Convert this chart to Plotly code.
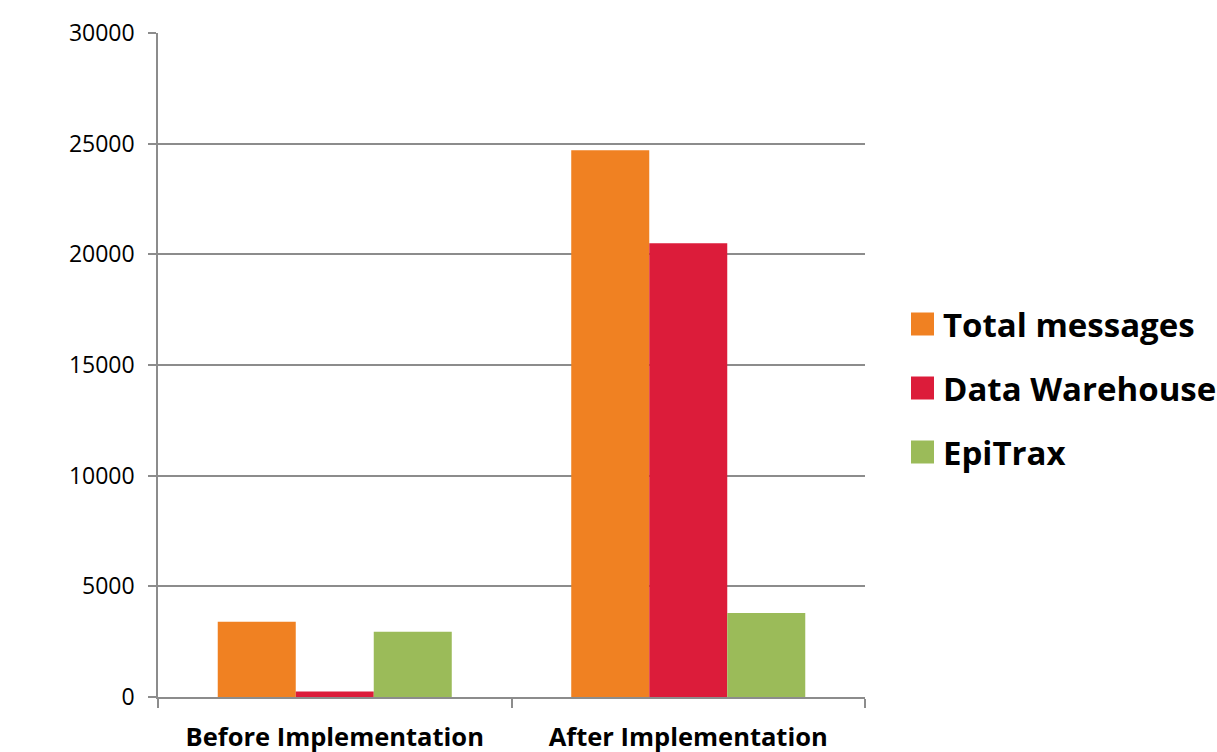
import plotly.graph_objects as go

categories = ["Before Implementation", "After Implementation"]
series_names = ["Total messages", "Data Warehouse", "EpiTrax"]
total_messages = [3400, 24700]
data_warehouse = [250, 20500]
epitrax = [2950, 3800]
series_colors = ["#F08122", "#DC1C3A", "#9BBB59"]
y_ticks = [0, 5000, 10000, 15000, 20000, 25000, 30000]

values = [total_messages, data_warehouse, epitrax]

W, H = 1217, 752
ML, MR, MT, MB = 158, 352, 33, 55
PW, PH = W - ML - MR, H - MT - MB
FONT = "Open Sans"
GRID = "#8c8c8c"

fig = go.Figure()
for name, vals, col in zip(series_names, values, series_colors):
    fig.add_trace(go.Bar(x=categories, y=vals, name=name, marker_color=col,
                         marker_line_width=0, showlegend=False))

# custom legend (large squares as in reference)
def px2x(px):
    return (px - ML) / PW

def py2y(py):
    return (H - MB - py) / PH

for i, (name, col) in enumerate(zip(series_names, series_colors)):
    cy = 324 + i * 64
    fig.add_shape(type="rect", xref="paper", yref="paper",
                  x0=px2x(911), x1=px2x(934), y0=py2y(cy + 11.5), y1=py2y(cy - 11.5),
                  fillcolor=col, line_width=0)
    fig.add_annotation(xref="paper", yref="paper", x=px2x(941), y=py2y(cy),
                       xanchor="left", yanchor="middle", showarrow=False,
                       text="<b>%s</b>" % name,
                       font=dict(family=FONT, size=33, color="#000000"))

fig.update_layout(
    width=W, height=H, autosize=False,
    margin=dict(l=ML, r=MR, t=MT, b=MB, pad=0),
    paper_bgcolor="white", plot_bgcolor="white",
    barmode="group", bargap=0.338, bargroupgap=0,
    showlegend=False,
    font=dict(family=FONT, color="#000000"),
)
fig.update_yaxes(range=[0, 30000], tickvals=y_ticks, ticktext=[str(v) for v in y_ticks],
                 showgrid=True, gridcolor=GRID, gridwidth=1.5,
                 showline=True, linecolor=GRID, linewidth=1.5,
                 ticks="outside", ticklen=8, tickcolor=GRID, tickwidth=1.5,
                 ticklabelstandoff=9, automargin=False,
                 tickfont=dict(family=FONT, size=23, color="#000000"), zeroline=False)
fig.update_xaxes(showgrid=False, showline=True, linecolor=GRID, linewidth=1.5,
                 ticks="outside", ticklen=9, tickcolor=GRID, tickwidth=1.5,
                 tickson="boundaries", ticklabelstandoff=17, automargin=False,
                 tickprefix="<b>", ticksuffix="</b>",
                 tickfont=dict(family=FONT, size=25.5, color="#000000"))

fig.write_html("out.html")
